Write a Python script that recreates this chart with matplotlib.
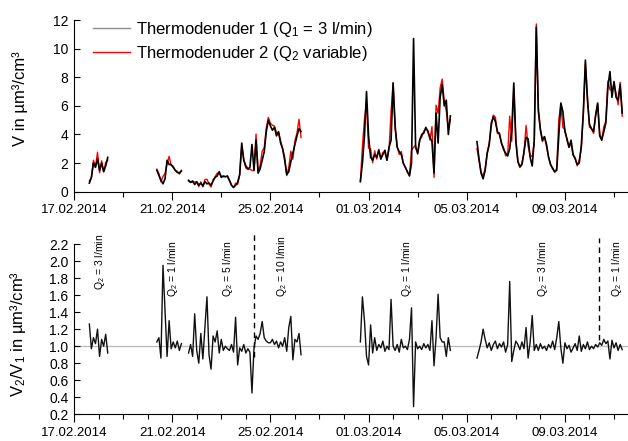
import numpy as np
import matplotlib
matplotlib.use("Agg")
import matplotlib.pyplot as plt
import matplotlib.dates as mdates
from matplotlib.lines import Line2D

plt.rcParams["font.family"] = ["Liberation Sans", "DejaVu Sans"]
plt.rcParams["mathtext.fontset"] = "custom"
plt.rcParams["mathtext.rm"] = "Liberation Sans"
plt.rcParams["mathtext.it"] = "Liberation Sans:italic"

# start of each measurement block, values are 2-hourly means
seg_starts = ["2014-02-17 15:00", "2014-02-20 09:00", "2014-02-21 16:00",
              "2014-02-28 16:00", "2014-03-05 10:00"]

# volume concentration behind thermodenuder 1 (um3/cm3)
v1_seg1 = [0.6, 1.0, 2.0, 1.7, 2.3, 1.5, 2.0, 1.4, 1.8, 2.4]
v1_seg2 = [1.5, 1.15, 0.8, 0.55, 0.9, 2.2, 1.9, 1.9, 1.7, 1.5, 1.35, 1.3, 1.45]
v1_seg3 = [0.8, 0.65, 0.75, 0.5, 0.7, 0.45, 0.6, 0.4, 0.7, 0.55,
           0.6, 0.45, 0.75, 1.0, 1.1, 1.4, 1.0, 1.1, 1.05, 1.1,
           0.8, 0.45, 0.3, 0.45, 0.65, 1.2, 3.4, 2.2, 1.8, 1.6,
           1.7, 3.3, 1.5, 3.6, 1.3, 1.6, 2.2, 2.8, 4.2, 5.0,
           4.6, 4.3, 4.5, 3.9, 4.2, 3.4, 3.0, 2.2, 1.2, 1.4,
           2.1, 2.7, 3.3, 3.9, 4.4, 4.2]
v1_seg4 = [0.7, 2.0, 3.9, 7.0, 3.9, 2.4, 2.2, 2.6, 2.4, 2.9,
           2.3, 2.6, 2.9, 2.2, 3.1, 3.6, 7.6, 4.6, 3.1, 2.8,
           2.6, 2.0, 1.7, 1.4, 1.1, 2.0, 10.7, 3.1, 2.7, 3.6,
           4.0, 4.1, 4.5, 4.2, 3.8, 3.5, 1.3, 5.5, 3.4, 6.6,
           7.5, 6.0, 6.4, 4.0, 5.3]
v1_seg5 = [3.5, 2.3, 1.3, 0.9, 1.5, 2.7, 3.3, 4.8, 5.25, 4.9,
           4.2, 4.0, 3.4, 2.95, 2.7, 2.5, 3.0, 4.3, 7.6, 3.5,
           2.1, 1.75, 1.9, 2.8, 3.8, 3.7, 2.4, 1.8, 3.6, 11.5,
           5.8, 4.3, 3.6, 3.85, 3.3, 2.4, 1.9, 1.6, 1.4, 1.5,
           3.9, 6.2, 5.6, 4.2, 3.7, 3.1, 3.6, 2.6, 2.3, 1.9,
           2.0, 3.2, 5.5, 9.2, 6.4, 4.7, 4.4, 4.2, 5.3, 6.2,
           3.9, 3.6, 4.2, 4.8, 7.3, 8.4, 6.6, 7.7, 6.6, 6.4,
           7.5, 5.5]

# ratio V2/V1
ratio_seg1 = [1.26, 0.97, 1.10, 1.03, 1.20, 0.88, 1.08, 1.00, 1.14, 0.92]
ratio_seg2 = [1.05, 1.10, 0.86, 1.95, 1.42, 0.88, 1.30, 0.97, 1.05, 0.98, 1.06, 0.95, 1.03]
ratio_seg3 = [0.92, 1.02, 0.88, 1.38, 0.95, 0.80, 1.15, 0.85, 1.22, 1.58,
              0.90, 0.73, 1.12, 1.05, 1.18, 0.92, 1.08, 0.95, 1.00, 0.97,
              0.95, 1.02, 0.93, 1.34, 0.78, 0.98, 0.94, 1.02, 0.92, 0.97,
              0.93, 0.45, 0.98, 1.12, 1.08, 1.15, 1.29, 1.10, 1.06, 1.04,
              1.04, 1.08, 1.02, 1.06, 0.98, 1.05, 1.00, 1.10, 0.94, 1.22,
              1.35, 0.84, 1.08, 1.05, 1.15, 0.90]
ratio_seg4 = [1.05, 1.58, 1.30, 0.88, 0.78, 1.25, 0.92, 1.10, 0.95, 1.02,
              0.98, 1.06, 0.94, 1.00, 0.96, 1.55, 1.00, 0.95, 1.02, 0.93,
              1.08, 0.98, 1.00, 0.96, 1.08, 1.45, 0.29, 1.05, 0.97, 1.00,
              0.96, 1.03, 0.98, 1.02, 0.95, 1.30, 0.77, 1.10, 1.61, 1.10,
              1.05, 1.05, 0.88, 1.10, 0.95]
ratio_seg5 = [0.86, 0.95, 1.05, 1.20, 1.08, 0.98, 1.04, 0.95, 1.02, 1.06,
              0.97, 1.03, 0.99, 1.05, 0.93, 1.02, 1.76, 0.82, 0.95, 1.06,
              1.02, 0.96, 1.05, 0.97, 1.22, 0.86, 1.05, 1.36, 0.95, 1.02,
              0.95, 1.03, 0.97, 1.00, 0.95, 1.02, 0.98, 1.06, 0.96, 1.10,
              1.29, 0.98, 0.80, 1.04, 0.97, 1.01, 0.93, 0.98, 1.03, 0.95,
              1.12, 0.94, 1.02, 0.97, 1.05, 0.96, 1.00, 0.97, 1.02, 0.99,
              1.04, 1.01, 1.08, 1.03, 1.06, 0.85, 1.07, 0.98, 1.04, 0.95,
              1.02, 0.96]

v1_segs = [v1_seg1, v1_seg2, v1_seg3, v1_seg4, v1_seg5]
ratio_segs = [ratio_seg1, ratio_seg2, ratio_seg3, ratio_seg4, ratio_seg5]

tick_labels = ["17.02.2014", "21.02.2014", "25.02.2014", "01.03.2014", "05.03.2014", "09.03.2014"]

# flow changes of thermodenuder 2
flow_changes = ["2014-02-24 08:00", "2014-03-10 09:30"]
q_label_times = ["2014-02-18 01:30", "2014-02-21 00:45", "2014-02-23 06:30", "2014-02-25 11:15",
                 "2014-03-02 13:30", "2014-03-08 02:30", "2014-03-11 03:00"]
q_label_texts = ["Q$_2$ = 3 l/min", "Q$_2$ = 1 l/min", "Q$_2$ = 5 l/min", "Q$_2$ = 10 l/min",
                 "Q$_2$ = 1 l/min", "Q$_2$ = 3 l/min", "Q$_2$ = 1 l/min"]
q_label_y = [1.66, 1.58, 1.58, 1.58, 1.58, 1.58, 1.58]


def seg_times(start, n):
    return np.datetime64(start) + np.arange(n) * np.timedelta64(2, "h")


fig = plt.figure(figsize=(6.28, 4.41), dpi=100)
ax1 = fig.add_axes([74 / 628, 0.5653, 1 - 74 / 628, 0.3893])
ax2 = fig.add_axes([74 / 628, 0.0605, 1 - 74 / 628, 0.3862])

for start, v1, r in zip(seg_starts, v1_segs, ratio_segs):
    t = seg_times(start, len(v1))
    v1 = np.array(v1)
    v2 = v1 * np.array(r)
    ax1.plot(t, v2, color="red", lw=1.0)
    ax1.plot(t, v1, color="black", lw=1.2)
    ax2.plot(t, r, color="#111111", lw=1.0, zorder=3)

ax2.axhline(1.0, color="#bdbdbd", lw=1, zorder=1)

dash_lims = [(0.87, 2.33), (1.07, 2.27)]
for tc, (lo, hi) in zip(flow_changes, dash_lims):
    d = np.datetime64(tc)
    ax2.plot([d, d], [lo, hi], color="black", lw=1, ls=(0, (4, 3)), clip_on=False, zorder=4)

for tq, txt, yq in zip(q_label_times, q_label_texts, q_label_y):
    ax2.text(np.datetime64(tq), yq, txt, rotation=90, ha="center", va="bottom",
             fontsize=7.5, clip_on=False)

handles = [Line2D([], [], color="#8c8c8c", lw=1), Line2D([], [], color="red", lw=1)]
ax1.legend(handles, ["Thermodenuder 1 (Q$_1$ = 3 l/min)", "Thermodenuder 2 (Q$_2$ variable)"],
           loc="upper left", bbox_to_anchor=(0.034, 1.0), frameon=False, fontsize=12,
           handlelength=2.2, handletextpad=0.4, labelspacing=0.3, borderaxespad=0, borderpad=0)

tick_pos = [mdates.date2num(np.datetime64("-".join(s.split(".")[::-1]))) for s in tick_labels]
x_left = mdates.date2num(np.datetime64("2014-02-17 00:00"))
x_right = mdates.date2num(np.datetime64("2014-03-11 13:40"))

for ax, step in ((ax1, 2), (ax2, 1)):
    ax.set_xlim(x_left, x_right)
    ax.set_xticks(tick_pos)
    ax.set_xticklabels(tick_labels)
    ax.set_xticks(np.arange(x_left, x_right, step), minor=True)
    ax.spines["top"].set_visible(False)
    ax.spines["right"].set_visible(False)
    ax.tick_params(axis="x", which="major", direction="out", length=6, width=0.8, pad=3, labelsize=9.5)
    ax.tick_params(axis="x", which="minor", direction="out", length=3.6, width=0.8)
    ax.tick_params(axis="y", direction="in", length=4, width=0.8, pad=4, labelsize=10)

ax1.set_ylim(0, 12)
ax1.set_yticks(np.arange(0, 13, 2))
ax1.set_ylabel("V in µm³/cm³", fontsize=12)
ax1.yaxis.set_label_coords(-0.083, 0.54)

ax2.set_ylim(0.2, 2.2)
ax2.set_yticks(np.arange(0.2, 2.21, 0.2))
ax2.set_yticklabels([f"{v:.1f}" for v in np.arange(0.2, 2.21, 0.2)])
ax2.set_ylabel("V$_2$/V$_1$ in µm³/cm³", fontsize=12)
ax2.yaxis.set_label_coords(-0.083, 0.47)

fig.savefig("out.png", dpi=100)
